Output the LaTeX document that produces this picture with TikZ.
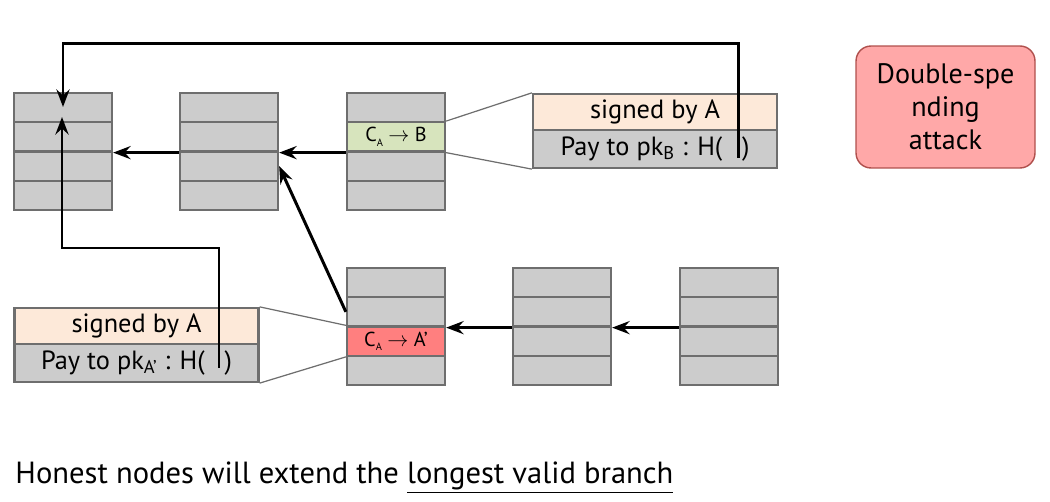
\documentclass[tikz,border=0pt]{standalone}
\usepackage{fontspec}
\setmainfont{PT Sans}
\usetikzlibrary{arrows.meta}
\definecolor{blockgray}{HTML}{CCCCCC}
\definecolor{edgegray}{HTML}{6E6E6E}
\definecolor{sigpeach}{HTML}{FDE9D9}
\definecolor{txgreen}{HTML}{D7E4BD}
\definecolor{txred}{HTML}{FF7F7F}
\definecolor{alertfill}{HTML}{FFA8A8}
\definecolor{alertdraw}{HTML}{B0504D}
\newcommand{\subA}{\raisebox{-0.45ex}{\fontsize{6}{6}\selectfont A}}
\begin{document}
\begin{tikzpicture}[x=0.02cm, y=-0.02cm, >={Stealth[length=10pt, width=7.5pt, inset=3.5pt]}, line width=1.7pt,
  row/.style={draw=edgegray, fill=blockgray, line width=1.3pt, minimum width=1.96cm, minimum height=0.585cm, inner sep=0pt},
  txrow/.style={draw=edgegray, line width=1.3pt, minimum width=4.88cm, inner sep=0pt, font=\fontsize{15}{17}\selectfont},
  callout/.style={draw=edgegray, line width=0.7pt}]
\useasboundingbox (0,0) rectangle (1050,502);

\foreach \b/\x/\y in {b1/63/93, b2/229/93, b3/396/93, b4/396/268, b5/562/268, b6/729/268}
  \foreach \r in {1,...,4}
    \node[row] (\b-\r) at (\x,{\y+(\r-0.5)*29.25}) {};
\node[row, fill=txgreen, font=\fontsize{11.5}{13}\selectfont] (cB) at (b3-2) {C\subA\ $\rightarrow$ B};
\node[row, fill=txred, font=\fontsize{11.5}{13}\selectfont] (cA) at (b4-3) {C\subA\ $\rightarrow$ A’};

\node[txrow, fill=sigpeach, minimum height=0.72cm] (sigB) at (655,112) {signed by A};
\node[txrow, fill=blockgray, minimum height=0.76cm] (payB) at (655,149) {Pay to pk\textsubscript{B} : H(\hspace{0.75em})};
\node[txrow, fill=sigpeach, minimum height=0.72cm] (sigA) at (136.5,326) {signed by A};
\node[txrow, fill=blockgray, minimum height=0.76cm] (payA) at (136.5,363) {Pay to pk\textsubscript{A’} : H(\hspace{0.75em})};

\draw[callout] (cB.north east) -- (sigB.north west);
\draw[callout] (cB.south east) -- (payB.south west);
\draw[callout] (sigA.north east) -- (cA.north west);
\draw[callout] (payA.south east) -- (cA.south west);

\draw[->] (b3-2.south west) -- (b2-2.south east);
\draw[->] (b2-2.south west) -- (b1-2.south east);
\draw[->] (b5-2.south west) -- (b4-2.south east);
\draw[->] (b6-2.south west) -- (b5-2.south east);
\draw[->] (b4-2.west) -- (b2-3.east);

\coordinate (hB) at (738,158);
\coordinate (hA) at (219,368);
\coordinate (tipB) at (63,107);
\coordinate (tipA) at (62,117);
\draw[->] (hB) -- ++(0,-114) -| (tipB);
\draw[->] (hA) -- ++(0,-120) -| (tipA);

\node[draw=alertdraw, fill=alertfill, rounded corners=0.3cm, line width=0.8pt, minimum width=3.58cm, minimum height=2.44cm, align=center, font=\fontsize{16}{18.7}\selectfont] (alert) at (945.5,107) {Double-spe\\nding\\attack};

\node[anchor=base west, inner sep=0pt, font=\fontsize{17.4}{20}\selectfont] (note) at (14,483) {Honest nodes will extend the \underline{longest valid branch}};
\end{tikzpicture}
\end{document}
